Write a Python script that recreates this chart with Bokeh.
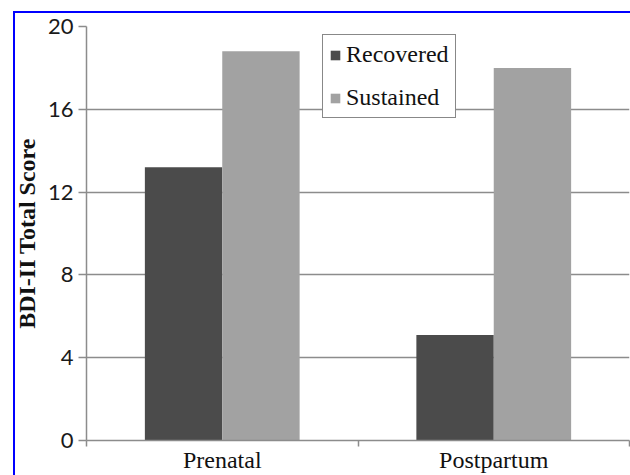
import numpy as np
from bokeh.plotting import figure
from bokeh.models import ColumnDataSource, Range1d, FixedTicker, Legend, LegendItem
from bokeh.transform import dodge
from bokeh.embed import file_html
from bokeh.resources import INLINE

categories = ["Prenatal", "Postpartum"]
recovered = [13.2, 5.1]
sustained = [18.8, 18.0]
y_ticks = [0, 4, 8, 12, 16, 20]

pos = np.arange(len(categories)) + 0.5
source = ColumnDataSource(dict(x=pos, recovered=recovered, sustained=sustained))

SERIF = "Liberation Serif"

p = figure(width=630, height=475, output_backend="svg", toolbar_location=None,
           x_range=Range1d(0, len(categories)), y_range=Range1d(0, 20),
           min_border_left=86, min_border_right=1, min_border_top=26, min_border_bottom=35)
p.border_fill_alpha = 0
p.styles = {
    "background-color": "#ffffff",
    "background-image": "linear-gradient(#0000ff, #0000ff), linear-gradient(#0000ff, #0000ff)",
    "background-position": "13px 11px, 13px 11px",
    "background-size": "2px 100%, 100% 2px",
    "background-repeat": "no-repeat, no-repeat",
}

r1 = p.vbar(x=dodge("x", -0.1425, range=p.x_range), top="recovered", width=0.285,
            source=source, fill_color="#4b4b4b", line_color=None)
r2 = p.vbar(x=dodge("x", 0.1425, range=p.x_range), top="sustained", width=0.285,
            source=source, fill_color="#a2a2a2", line_color=None)

p.outline_line_color = None
p.xgrid.grid_line_color = None
p.ygrid.grid_line_color = "#8c8c8c"
p.ygrid.grid_line_width = 1.5
p.ygrid.ticker = FixedTicker(ticks=y_ticks)

p.yaxis.ticker = FixedTicker(ticks=y_ticks)
p.yaxis.axis_line_color = "#8c8c8c"
p.yaxis.axis_line_width = 1.5
p.yaxis.major_tick_line_color = "#8c8c8c"
p.yaxis.major_tick_line_width = 1.5
p.yaxis.major_tick_out = 8
p.yaxis.major_tick_in = 0
p.yaxis.minor_tick_line_color = None
p.yaxis.major_label_text_font = "Lato"
p.yaxis.major_label_text_font_size = "22px"
p.yaxis.major_label_text_color = "#1a1a1a"
p.yaxis.major_label_standoff = 5
p.yaxis.axis_label = "BDI-II Total Score"
p.yaxis.axis_label_text_font = SERIF
p.yaxis.axis_label_text_font_style = "bold"
p.yaxis.axis_label_text_font_size = "24px"
p.yaxis.axis_label_text_color = "#111111"
p.yaxis.axis_label_standoff = 5

p.xaxis.ticker = FixedTicker(ticks=list(pos), minor_ticks=list(range(len(categories) + 1)))
p.xaxis.major_label_overrides = {float(v): c for v, c in zip(pos, categories)}
p.xaxis.axis_line_color = "#8c8c8c"
p.xaxis.axis_line_width = 1.5
p.xaxis.major_tick_line_color = None
p.xaxis.major_tick_out = 0
p.xaxis.major_tick_in = 0
p.xaxis.minor_tick_line_color = "#8c8c8c"
p.xaxis.minor_tick_line_width = 1.5
p.xaxis.minor_tick_out = 6
p.xaxis.minor_tick_in = 0
p.xaxis.major_label_text_font = SERIF
p.xaxis.major_label_text_font_size = "24px"
p.xaxis.major_label_text_color = "#111111"
p.xaxis.major_label_standoff = 0

legend = Legend(items=[LegendItem(label="Recovered", renderers=[r1]),
                       LegendItem(label="Sustained", renderers=[r2])],
                location=(236, 322))
legend.label_text_font = SERIF
legend.label_text_font_size = "24px"
legend.label_text_color = "#111111"
legend.label_height = 26
legend.glyph_height = 12
legend.glyph_width = 12
legend.label_standoff = 5
legend.spacing = 16
legend.padding = 6
legend.margin = 0
legend.border_line_color = "#111111"
legend.border_line_width = 1.5
legend.background_fill_alpha = 1
p.add_layout(legend, "center")

open("out.html", "w").write(file_html(p, INLINE))
